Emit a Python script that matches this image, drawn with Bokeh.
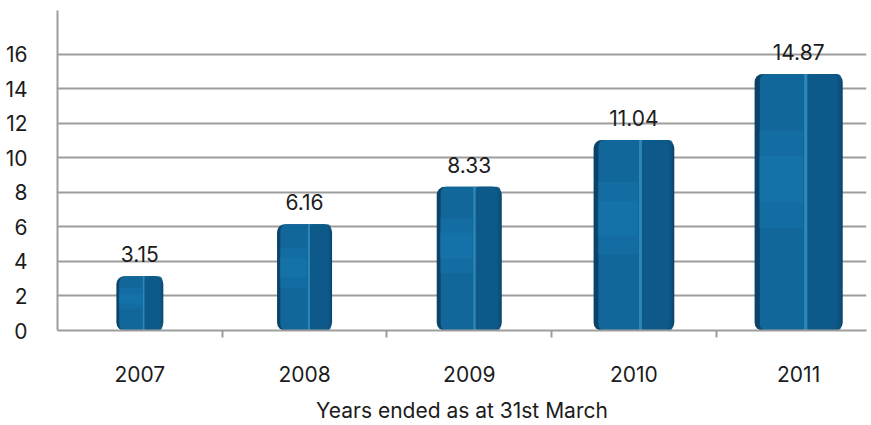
from bokeh.plotting import figure
from bokeh.models import Range1d, FixedTicker, ColumnDataSource
from bokeh.core.properties import value
from bokeh.embed import file_html
from bokeh.resources import INLINE

# ---- data ----
years = ["2007", "2008", "2009", "2010", "2011"]
values = [3.15, 6.16, 8.33, 11.04, 14.87]
value_labels = ["3.15", "6.16", "8.33", "11.04", "14.87"]
y_ticks = [0, 2, 4, 6, 8, 10, 12, 14, 16]

# ---- style ----
bar_widths = [0.285, 0.334, 0.395, 0.49, 0.535]
FONT = "Inter"
FS = "21px"
TXT = "#1c1c1c"
GRID = "#9d9d9d"

centers = [i + 0.5 for i in range(len(years))]
src = ColumnDataSource(dict(
    x=centers, top=values, w=bar_widths,
    w_in=[w * 0.88 for w in bar_widths],
    x_rf=[c + w * 0.08 + w * 0.21 for c, w in zip(centers, bar_widths)],
    w_rf=[w * 0.38 for w in bar_widths],
    w_hl=[w * 0.035 for w in bar_widths],
    x_hl=[c + w * 0.08 for c, w in zip(centers, bar_widths)],
    mid_b=[v * 0.40 for v in values],
    mid_t=[v * 0.78 for v in values],
    mid_b2=[v * 0.50 for v in values],
    mid_t2=[v * 0.68 for v in values],
    x_lf=[c - w * 0.2 for c, w in zip(centers, bar_widths)],
    w_lf=[w * 0.5 for w in bar_widths],
    lab=value_labels,
))

p = figure(width=871, height=425,
           x_range=Range1d(0, 4.912), y_range=Range1d(0, 18.55),
           output_backend="svg", toolbar_location=None,
           min_border_left=57, min_border_right=5,
           min_border_top=10, min_border_bottom=94)
p.outline_line_color = None
p.background_fill_color = "white"
p.border_fill_color = "white"

# grid
p.xgrid.grid_line_color = None
p.ygrid.ticker = FixedTicker(ticks=y_ticks)
p.ygrid.grid_line_color = GRID
p.ygrid.grid_line_width = 2

# y axis
p.yaxis.ticker = FixedTicker(ticks=y_ticks)
p.yaxis.axis_line_color = GRID
p.yaxis.axis_line_width = 2
p.yaxis.major_tick_line_color = None
p.yaxis.minor_tick_line_color = None
p.yaxis.major_label_standoff = 24
p.yaxis.major_label_text_font = FONT
p.yaxis.major_label_text_font_size = FS
p.yaxis.major_label_text_color = TXT

# x axis
p.xaxis.ticker = FixedTicker(ticks=centers, minor_ticks=[1, 2, 3, 4])
p.xaxis.major_label_overrides = {c: y for c, y in zip(centers, years)}
p.xaxis.axis_line_color = GRID
p.xaxis.axis_line_width = 2
p.xaxis.major_tick_line_color = None
p.xaxis.major_tick_out = 0
p.xaxis.major_tick_in = 0
p.xaxis.minor_tick_line_color = GRID
p.xaxis.minor_tick_line_width = 2
p.xaxis.minor_tick_out = 7
p.xaxis.minor_tick_in = 0
p.xaxis.major_label_standoff = 28
p.xaxis.major_label_text_font = FONT
p.xaxis.major_label_text_font_size = FS
p.xaxis.major_label_text_color = TXT
p.xaxis.axis_label = "Years ended as at 31st March"
p.xaxis.axis_label_text_font = FONT
p.xaxis.axis_label_text_font_size = FS
p.xaxis.axis_label_text_font_style = "normal"
p.xaxis.axis_label_text_color = TXT
p.xaxis.axis_label_standoff = 13

# bars (layered for a shaded look)
p.vbar(x="x", top="top", width="w", bottom=0, source=src,
       fill_color="#0b4368", line_color=None, border_radius=8)
p.vbar(x="x", top="top", width="w_in", bottom=0, source=src,
       fill_color="#12679a", line_color=None, border_radius=6)
p.vbar(x="x_lf", bottom="mid_b", top="mid_t", width="w_lf", source=src,
       fill_color="#1d86bd", fill_alpha=0.22, line_color=None)
p.vbar(x="x_lf", bottom="mid_b2", top="mid_t2", width="w_lf", source=src,
       fill_color="#1d86bd", fill_alpha=0.22, line_color=None)
p.vbar(x="x_rf", top="top", width="w_rf", bottom=0, source=src,
       fill_color="#0d5684", fill_alpha=0.8, line_color=None, border_radius=4)
p.vbar(x="x_hl", top="top", width="w_hl", bottom=0, source=src,
       fill_color="#3f9ccc", fill_alpha=0.6, line_color=None)

# value labels
p.text(x="x", y="top", text="lab", source=src,
       text_align="center", text_baseline="bottom", y_offset=-14,
       text_font=value(FONT), text_font_size=FS, text_color=TXT)

open("out.html", "w").write(file_html(p, INLINE))
